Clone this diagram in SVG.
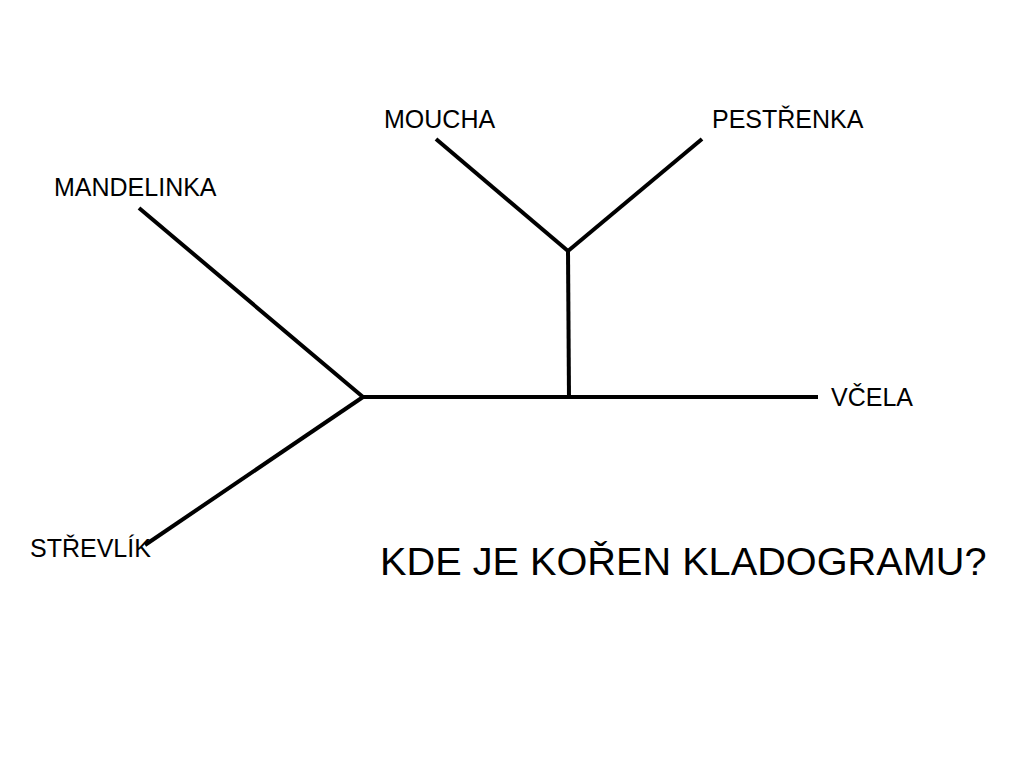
<svg xmlns="http://www.w3.org/2000/svg" width="1024" height="768" viewBox="0 0 1024 768">
<style>
.t{font-family:"Liberation Sans",Arial,sans-serif;fill:#000;font-size:25px}
.q{font-size:39.7px}
.l{stroke:#000;stroke-width:4;fill:none;stroke-linecap:butt;stroke-linejoin:miter}
</style>
<rect width="1024" height="768" fill="#fff"/>
<g id="connectors">
<line class="l" x1="139" y1="208" x2="363" y2="397"/>
<line class="l" x1="145" y1="545" x2="363" y2="397"/>
<line class="l" x1="361" y1="397" x2="818" y2="397"/>
<line class="l" x1="569" y1="397" x2="568" y2="251"/>
<line class="l" x1="436" y1="139" x2="568" y2="251"/>
<line class="l" x1="702" y1="139" x2="568" y2="251"/>
</g>
<g id="mandelinka"><text class="t" x="54" y="196">MANDELINKA</text></g>
<g id="moucha"><text class="t" x="384" y="128">MOUCHA</text></g>
<g id="pestrenka"><text class="t" x="712" y="128">PESTŘENKA</text></g>
<g id="vcela"><text class="t" x="831" y="406">VČELA</text></g>
<g id="strevlik"><text class="t" x="30" y="557">STŘEVLÍK</text></g>
<g id="question"><text class="t q" x="380" y="575">KDE JE KOŘEN KLADOGRAMU?</text></g>
</svg>
